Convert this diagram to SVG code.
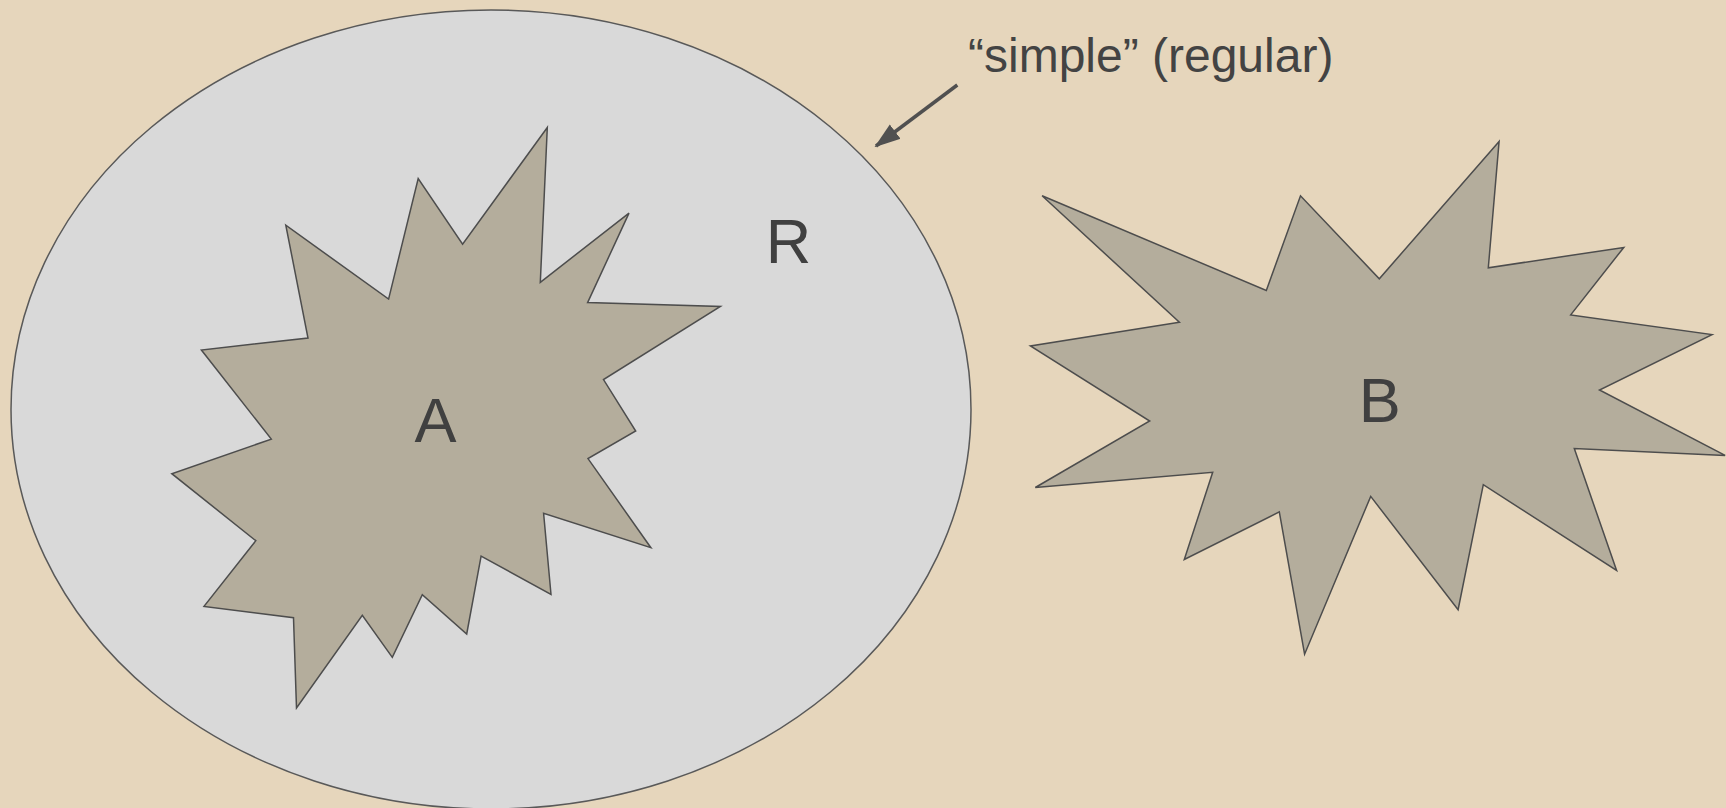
<svg xmlns="http://www.w3.org/2000/svg" width="1726" height="808" viewBox="0 0 1726 808">
<defs>
<style>
.bg{fill:#e6d6bc}
.region{fill:#d9d9d9;stroke:#595959;stroke-width:1.5}
.blob{fill:#b4ad9c;stroke:#4d4d4d;stroke-width:1.5;stroke-linejoin:miter}
.lbl{font-family:"Liberation Sans",Arial,sans-serif;font-size:63px;fill:#404040;text-anchor:middle}
.note{font-family:"Liberation Sans",Arial,sans-serif;font-size:48px;fill:#434343}
.conn{stroke:#505050;stroke-width:3.5;fill:none}
</style>
<marker id="arr" markerUnits="userSpaceOnUse" markerWidth="26" markerHeight="20" refX="24" refY="9" orient="auto" viewBox="0 0 26 18">
<path d="M0,0 L26,9 L0,18 Z" fill="#505050"/>
</marker>
</defs>
<rect class="bg" x="0" y="0" width="1726" height="808"/>
<g id="region-R">
<ellipse class="region" cx="491" cy="409.5" rx="480" ry="399.5"/>
<text class="lbl" x="788.5" y="263">R</text>
</g>
<g id="blob-A">
<polygon class="blob" points="547.3,127.5 540.3,282.3 629,213.1 587.6,302.6 720.4,306.5 603.5,379.6 635.7,431 588,458.6 650.9,547.7 543.6,513.4 551,594.3 481.1,556.2 466.7,634 422.3,594.7 392.3,657.4 362.3,615.4 296.5,708 293.5,617.7 204,606.4 255.8,540.7 171.8,473.7 271.3,439.1 201.4,350 308,338 285.8,225.2 388.6,299.1 418.2,178.5 462.6,244.2"/>
<text class="lbl" x="435.6" y="441.8">A</text>
</g>
<g id="blob-B">
<polygon class="blob" points="1499.1,141.4 1488.3,267.8 1623.8,247.4 1570.7,314.9 1712,334.6 1599.5,390 1725.1,455.4 1574.3,448.6 1616.6,570.5 1483.3,484.7 1458.1,609.7 1370.7,496.4 1304.6,654.2 1279.3,511.9 1184.3,559.5 1212.7,472.3 1035.3,487.5 1149.7,421 1030.4,345.9 1179.4,322.2 1042.1,195.8 1266.3,290.5 1300.5,195.8 1379.3,278.8"/>
<text class="lbl" x="1379.8" y="421.7">B</text>
</g>
<g id="note">
<text class="note" x="968" y="71.7">“simple” (regular)</text>
</g>
<g id="connectors">
<line class="conn" x1="957.3" y1="85" x2="876" y2="146" marker-end="url(#arr)"/>
</g>
</svg>
